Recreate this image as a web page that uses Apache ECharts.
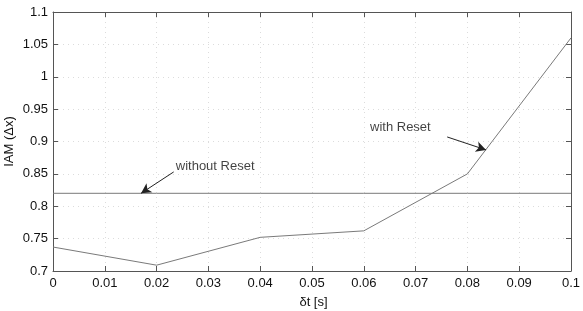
<!DOCTYPE html>
<html>
<head>
<meta charset="utf-8">
<script src="https://cdn.jsdelivr.net/npm/echarts@6/dist/echarts.min.js"></script>
<style>
html, body { margin: 0; padding: 0; background: #fff; }
#main { width: 583px; height: 311px; }
</style>
</head>
<body>
<div id="main"></div>
<script>
var dt = [0, 0.02, 0.04, 0.06, 0.08, 0.1];
var withReset = [0.737, 0.709, 0.752, 0.762, 0.850, 1.060];
var withoutReset = [0.820, 0.820, 0.820, 0.820, 0.820, 0.820];

// annotation anchors (data coords)
var noResetLabel = [0.0237, 0.861];
var noResetArrow = [[0.0233, 0.853], [0.0170, 0.820]];
var resetLabel = [0.0612, 0.921];
var resetArrow = [[0.0761, 0.907], [0.0836, 0.887]];

var myChart = echarts.init(document.getElementById('main'));

var font = 'Liberation Sans, Arial, sans-serif';
var lineColor = '#7a7a7a';

function pairs(xs, ys) {
    return xs.map(function (x, i) { return [x, ys[i]]; });
}

var axisCommon = {
    type: 'value',
    axisLine: { show: true, onZero: false, lineStyle: { color: '#555', width: 1 } },
    axisTick: { show: true, inside: true, length: 5, lineStyle: { color: '#555' } }
};

option = {
    animation: false,
    backgroundColor: '#fff',
    grid: { left: 53, right: 12, top: 12, bottom: 40, containLabel: false, outerBoundsMode: 'none' },
    xAxis: [
        Object.assign({}, axisCommon, {
            min: 0, max: 0.1, interval: 0.01,
            name: 'δt [s]', nameLocation: 'middle', nameGap: 25, nameMoveOverlap: false,
            nameTextStyle: { fontFamily: font, fontSize: 13, color: '#111', padding: [0, 0, 0, 3] },
            axisLabel: { fontFamily: font, fontSize: 13, color: '#111', margin: 6 },
            splitLine: { show: true, lineStyle: { color: '#dcdcdc', type: [1, 4] } }
        }),
        Object.assign({}, axisCommon, {
            position: 'top', min: 0, max: 0.1, interval: 0.01,
            axisLabel: { show: false }, splitLine: { show: false }
        })
    ],
    yAxis: [
        Object.assign({}, axisCommon, {
            min: 0.7, max: 1.1, interval: 0.05,
            name: 'IAM (Δx)', nameLocation: 'middle', nameGap: 37, nameMoveOverlap: false,
            nameTextStyle: { fontFamily: font, fontSize: 13, color: '#111' },
            axisLabel: { fontFamily: font, fontSize: 13, color: '#111', margin: 5 },
            splitLine: { show: true, lineStyle: { color: '#dcdcdc', type: [1, 4] } }
        }),
        Object.assign({}, axisCommon, {
            position: 'right', min: 0.7, max: 1.1, interval: 0.05,
            axisLabel: { show: false }, splitLine: { show: false }
        })
    ],
    series: [
        {
            name: 'with Reset',
            type: 'line',
            data: pairs(dt, withReset),
            symbol: 'none',
            lineStyle: { color: lineColor, width: 1 },
            markLine: {
                silent: true,
                symbol: ['none', 'arrow'],
                symbolSize: [8, 10],
                label: { show: false },
                lineStyle: { color: '#222', width: 1, type: 'solid' },
                data: [[{ coord: resetArrow[0] }, { coord: resetArrow[1] }]]
            }
        },
        {
            name: 'without Reset',
            type: 'line',
            data: pairs(dt, withoutReset),
            symbol: 'none',
            lineStyle: { color: lineColor, width: 1 },
            markLine: {
                silent: true,
                symbol: ['none', 'arrow'],
                symbolSize: [8, 10],
                label: { show: false },
                lineStyle: { color: '#222', width: 1, type: 'solid' },
                data: [[{ coord: noResetArrow[0] }, { coord: noResetArrow[1] }]]
            }
        },
        {
            type: 'scatter',
            symbolSize: 0,
            silent: true,
            data: [
                { value: noResetLabel, name: 'without Reset' },
                { value: resetLabel, name: 'with Reset' }
            ],
            label: {
                show: true,
                position: 'right',
                distance: 0,
                formatter: '{b}',
                fontFamily: font,
                fontSize: 13,
                color: '#111'
            }
        }
    ]
};

myChart.setOption(option);
</script>
</body>
</html>
